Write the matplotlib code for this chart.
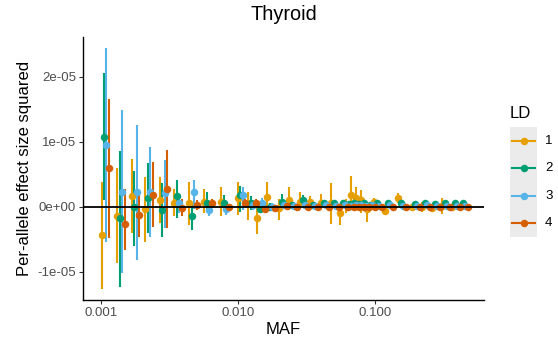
import matplotlib.pyplot as plt
import matplotlib.patches as mpatches
from matplotlib.lines import Line2D
import numpy as np

plt.rcParams['font.family'] = ['Liberation Sans', 'DejaVu Sans']

# MAF bin centres
MAF = [0.00108, 0.00141, 0.00179, 0.00226, 0.00287, 0.00366, 0.00472, 0.00607,
       0.00807, 0.0107, 0.0127, 0.0148, 0.0175, 0.0214, 0.0253, 0.0305, 0.0361,
       0.0434, 0.0513, 0.0597, 0.066, 0.0718, 0.0781, 0.085, 0.0939, 0.106,
       0.127, 0.158, 0.200, 0.237, 0.280, 0.331, 0.392, 0.449]

LD_LABELS = ['1', '2', '3', '4']
COLORS = ['#E69F00', '#009E73', '#56B4E9', '#D55E00']

# effect size squared (units of 1e-5): estimate, lower, upper
LD1_EST = [-0.44, -0.14, 0.17, -0.04, 0.10, 0.06, 0.05, 0.08, 0.08, 0.13, 0.05, -0.18,
           0.15, -0.02, 0.11, 0.08, 0.08, 0.06, 0.06, -0.10, 0.02, 0.18, 0.13, 0.10,
           -0.04, 0.08, -0.07, 0.13, 0.00, 0.00, -0.02, 0.01, 0.00, 0.01]
LD1_LO = [-1.26, -0.87, -0.40, -0.54, -0.25, -0.15, -0.28, -0.10, -0.15, -0.13, -0.20, -0.42,
          -0.02, -0.20, -0.05, -0.02, 0.00, -0.03, -0.26, -0.28, -0.10, -0.03, -0.05, -0.10,
          -0.23, 0.03, -0.13, 0.06, -0.04, -0.08, -0.05, -0.11, -0.03, -0.02]
LD1_HI = [0.38, 0.59, 0.73, 0.46, 0.46, 0.27, 0.38, 0.27, 0.31, 0.38, 0.23, 0.00,
          0.38, 0.12, 0.31, 0.23, 0.17, 0.20, 0.37, 0.04, 0.12, 0.47, 0.30, 0.25,
          0.05, 0.13, 0.00, 0.21, 0.04, 0.08, 0.03, 0.14, 0.03, 0.03]

LD2_EST = [1.08, -0.17, 0.00, 0.14, -0.05, 0.16, -0.15, 0.06, 0.06, 0.18, 0.06, -0.03,
           -0.01, 0.08, 0.03, 0.10, 0.03, 0.05, 0.06, 0.06, 0.04, 0.05, 0.04, 0.05,
           0.03, 0.05, 0.06, 0.05, 0.04, 0.05, 0.04, 0.05, 0.06, 0.06]
LD2_LO = [0.10, -1.23, -0.60, -0.41, -0.46, -0.17, -0.36, -0.08, -0.06, -0.08, -0.05, -0.10,
          -0.07, -0.02, -0.03, 0.02, -0.02, 0.00, 0.01, 0.01, 0.00, 0.01, 0.00, 0.01,
          0.00, 0.02, 0.03, 0.02, 0.02, 0.03, 0.02, 0.03, 0.04, 0.04]
LD2_HI = [2.05, 0.85, 0.55, 0.68, 0.36, 0.41, 0.05, 0.23, 0.18, 0.32, 0.16, 0.04,
          0.05, 0.20, 0.09, 0.18, 0.08, 0.10, 0.11, 0.11, 0.08, 0.09, 0.08, 0.09,
          0.06, 0.08, 0.09, 0.08, 0.06, 0.07, 0.06, 0.07, 0.08, 0.08]

LD3_EST = [0.95, 0.23, 0.22, 0.22, 0.21, 0.06, 0.23, -0.05, -0.04, 0.18, 0.03, 0.05,
           0.00, 0.02, 0.01, 0.02, 0.01, 0.02, 0.01, 0.02, 0.01, 0.02, 0.02, 0.01,
           0.02, 0.01, 0.02, 0.01, 0.01, 0.02, 0.01, 0.01, 0.01, 0.01]
LD3_LO = [-0.54, -1.02, -0.82, -0.46, -0.33, -0.10, -0.03, -0.15, -0.12, -0.05, -0.05, -0.03,
          -0.06, -0.04, -0.04, -0.03, -0.03, -0.02, -0.03, -0.02, -0.02, -0.02, -0.02, -0.02,
          -0.01, -0.02, -0.01, -0.01, -0.01, -0.01, -0.01, -0.01, -0.01, -0.01]
LD3_HI = [2.44, 1.49, 1.26, 0.92, 0.72, 0.20, 0.41, 0.05, 0.05, 0.30, 0.11, 0.13,
          0.06, 0.08, 0.06, 0.07, 0.05, 0.06, 0.05, 0.06, 0.04, 0.06, 0.05, 0.04,
          0.05, 0.04, 0.05, 0.03, 0.03, 0.04, 0.03, 0.03, 0.03, 0.03]

LD4_EST = [0.59, -0.26, -0.12, 0.18, 0.27, -0.02, 0.02, 0.05, -0.01, 0.06, 0.06, -0.03,
           -0.02, 0.01, -0.01, 0.00, -0.01, 0.00, -0.01, 0.00, -0.01, 0.00, -0.01, 0.00,
           -0.01, 0.00, -0.01, 0.00, -0.01, 0.00, -0.01, 0.00, -0.01, 0.00]
LD4_LO = [-0.48, -0.66, -0.46, -0.31, -0.33, -0.15, -0.05, -0.02, -0.05, 0.00, 0.00, -0.08,
          -0.06, -0.03, -0.04, -0.03, -0.04, -0.03, -0.03, -0.02, -0.03, -0.02, -0.03, -0.02,
          -0.03, -0.02, -0.02, -0.02, -0.02, -0.02, -0.02, -0.02, -0.02, -0.02]
LD4_HI = [1.65, 0.28, 0.24, 0.69, 0.87, 0.12, 0.10, 0.12, 0.04, 0.12, 0.12, 0.02,
          0.02, 0.05, 0.02, 0.03, 0.02, 0.03, 0.01, 0.02, 0.01, 0.02, 0.01, 0.02,
          0.01, 0.02, 0.00, 0.02, 0.00, 0.02, 0.00, 0.02, 0.00, 0.02]

SERIES = [(LD1_EST, LD1_LO, LD1_HI), (LD2_EST, LD2_LO, LD2_HI),
          (LD3_EST, LD3_LO, LD3_HI), (LD4_EST, LD4_LO, LD4_HI)]

W, H = 558, 347
fig = plt.figure(figsize=(W / 100, H / 100), dpi=100)
ax = fig.add_axes([83 / W, 1 - 300 / H, (484 - 83) / W, (300 - 37) / H])

MS = 5.4
maf = np.array(MAF)
dodge = 0.018  # decades between LD groups
for i, (est, lo, hi) in enumerate(SERIES):
    x = maf * 10 ** ((i - 1.5) * dodge)
    ax.vlines(x, np.array(lo) * 1e-5, np.array(hi) * 1e-5, color=COLORS[i], lw=1.5, zorder=2)
    ax.plot(x, np.array(est) * 1e-5, 'o', color=COLORS[i], ms=MS, mew=0, zorder=3)

ax.axhline(0, color='black', lw=1.3, zorder=4)

ax.set_xscale('log')
ax.set_xlim(7.43e-4, 0.628)
ax.set_ylim(-1.435e-5, 2.611e-5)
ax.set_xticks([0.001, 0.01, 0.1])
ax.set_xticklabels(['0.001', '0.010', '0.100'])
ax.minorticks_off()
ax.set_yticks([-1e-5, 0, 1e-5, 2e-5])
ax.set_yticklabels(['-1e-05', '0e+00', '1e-05', '2e-05'])

for s in ['top', 'right']:
    ax.spines[s].set_visible(False)
for s in ['left', 'bottom']:
    ax.spines[s].set_linewidth(1.0)
    ax.spines[s].set_color('black')
ax.tick_params(axis='both', length=3, width=0.8, color='#333333',
               labelsize=9.5, labelcolor='#4D4D4D', pad=2)

ax.set_xlabel('MAF', fontsize=12, labelpad=2)
ax.set_ylabel('Per-allele effect size squared', fontsize=12, labelpad=4)
fig.text((83 + 484) / 2 / W, 1 - 14 / H, 'Thyroid', fontsize=14.3, ha='center', va='center')

# legend drawn by hand to get ggplot-style grey key backgrounds
fig.text(510 / W, 1 - 114 / H, 'LD', fontsize=12, ha='left', va='center')
for i, lab in enumerate(LD_LABELS):
    yc = 141 + 27.3 * i
    fig.add_artist(mpatches.Rectangle((510 / W, 1 - (yc + 13.65) / H), 27 / W, 27.3 / H,
                                      transform=fig.transFigure, facecolor='#EBEBEB',
                                      edgecolor='none'))
    fig.add_artist(Line2D([512 / W, 535 / W], [1 - yc / H, 1 - yc / H],
                          transform=fig.transFigure, color=COLORS[i], lw=1.5))
    fig.add_artist(Line2D([523.5 / W], [1 - yc / H], transform=fig.transFigure,
                          color=COLORS[i], marker='o', ms=MS, mew=0, lw=0))
    fig.text(545 / W, 1 - yc / H, lab, fontsize=9.5, ha='left', va='center')

fig.savefig('out.png', dpi=100)
